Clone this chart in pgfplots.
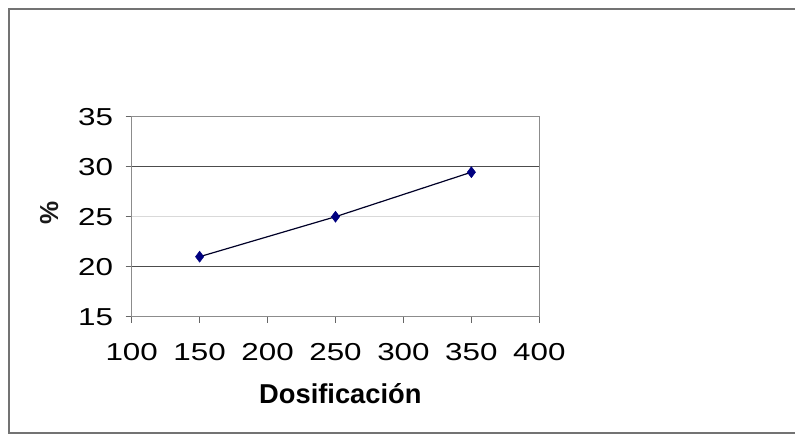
\documentclass[border=0pt]{standalone}
\usepackage{fontspec}
\setmainfont{Liberation Sans}
\newfontfamily\tickfont[FakeStretch=1.28]{Liberation Sans}
\usepackage{pgfplots}
\pgfplotsset{compat=1.18}
\definecolor{navy}{HTML}{000080}

\begin{document}
\begin{tikzpicture}[x=1pt,y=1pt]
\useasboundingbox (0,0) rectangle (795,434);
% outer chart frame (open on the right)
\draw[line width=2pt, black!55] (796,424.7) -- (9.3,424.7) -- (9.3,1.3) -- (796,1.3);
\begin{axis}[
  at={(131.7pt,117.3pt)}, anchor=south west,
  scale only axis, width=407.6pt, height=200pt,
  xmin=100, xmax=400, ymin=15, ymax=35,
  xtick={100,150,...,400}, ytick={15,20,...,35},
  tick align=outside, tick pos=left,
  major tick length=6pt,
  every tick/.style={black!60, line width=1.2pt},
  axis line style={black!45, line width=1.5pt},
  ymajorgrids, major grid style={black!15, line width=1pt},
  extra y ticks={20,30}, extra y tick labels={},
  extra y tick style={grid=major, major grid style={black!70, line width=1.3pt}, major tick length=0pt},
  /pgf/number format/assume math mode=true,
  ticklabel style={font=\tickfont\fontsize{24.5}{26}\selectfont, text=black},
  yticklabel style={inner sep=0pt, xshift=-12.5pt},
  xticklabel style={inner sep=0pt, yshift=-20pt},
  xlabel={\textbf{Dosificación}},
  xlabel style={at={(axis description cs:0.512,0)}, anchor=base, yshift=-86.5pt,
    font=\fontsize{27.3}{30}\selectfont, text=black},
  ylabel={\textbf{\%}},
  ylabel style={at={(axis description cs:0,0.52)}, anchor=center, yshift=82.5pt,
    font=\fontsize{26}{30}\selectfont, text=black!90},
]
\addplot[black!70!navy, line width=1.2pt, mark=diamond*, mark size=5.5pt,
  mark options={fill=navy, draw=navy, line width=0.5pt}]
  coordinates {(150,21.0) (250,25.0) (350,29.45)};
\end{axis}
\end{tikzpicture}
\end{document}
